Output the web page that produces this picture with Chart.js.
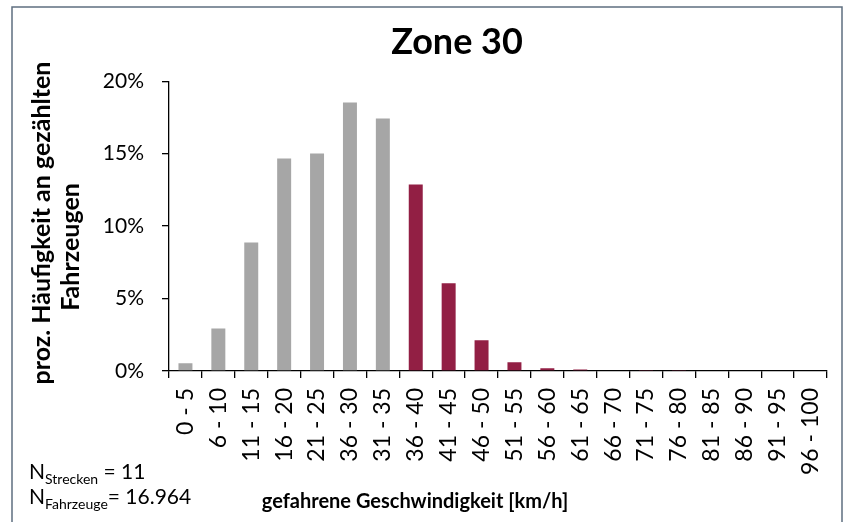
<!DOCTYPE html>
<html>
<head>
<meta charset="utf-8">
<script src="https://cdn.jsdelivr.net/npm/chart.js@4.4.0/dist/chart.umd.min.js"></script>
<style>
  html, body { margin: 0; padding: 0; background: #fff; }
  #wrap { width: 853px; height: 522px; }
</style>
</head>
<body>
<div id="wrap"><canvas id="chart" width="853" height="522"></canvas></div>
<script>
// Geschwindigkeitsklassen (Beschriftung wie im Original)
const categories = ['0 - 5', '6 - 10', '11 - 15', '16 - 20', '21 - 25', '36 - 30', '31 - 35',
    '36 - 40', '41 - 45', '46 - 50', '51 - 55', '56 - 60', '61 - 65', '66 - 70', '71 - 75',
    '76 - 80', '81 - 85', '86 - 90', '91 - 95', '96 - 100'];
// Anteil an gezählten Fahrzeugen in %
const shares = [0.53, 2.94, 8.87, 14.67, 15.01, 18.53, 17.43, 12.87, 6.05, 2.12,
    0.6, 0.19, 0.1, 0.05, 0.04, 0.03, 0, 0, 0, 0];
const yTicks = [0, 5, 10, 15, 20];
const firstOverLimit = 7; // ab "36 - 40" zu schnell
const notes = [['Strecken', ' = 11'], ['Fahrzeuge', '= 16.964']];

const grey = '#a6a6a6';
const red = '#921f44';
const font = 'Lato, sans-serif';

// Rahmen, Achsentitel und N-Angaben
const extras = {
    id: 'extras',
    afterDraw(chart) {
        const ctx = chart.ctx;
        ctx.save();
        ctx.strokeStyle = '#5f6f80';
        ctx.lineWidth = 1.5;
        ctx.beginPath();
        ctx.moveTo(12, 522); ctx.lineTo(12, 7); ctx.lineTo(842, 7); ctx.lineTo(842, 522);
        ctx.stroke();

        ctx.fillStyle = '#000';
        ctx.textAlign = 'center';
        ctx.textBaseline = 'middle';
        ctx.font = 'bold 25px ' + font;
        const yTitle = [['proz. Häufigkeit an gezählten', 42, 223], ['Fahrzeugen', 71, 247]];
        yTitle.forEach(([t, x, y]) => {
            ctx.save();
            ctx.translate(x, y);
            ctx.rotate(-Math.PI / 2);
            ctx.fillText(t, 0, 0);
            ctx.restore();
        });

        ctx.textBaseline = 'alphabetic';
        ctx.font = 'bold 20px ' + font;
        ctx.fillText('gefahrene Geschwindigkeit [km/h]', 415, 508);

        ctx.textAlign = 'left';
        notes.forEach((n, i) => {
            const base = 479 + i * 25;
            let x = 29;
            ctx.font = '21px ' + font;
            ctx.fillText('N', x, base);
            x += ctx.measureText('N').width;
            ctx.font = '14px ' + font;
            ctx.fillText(n[0], x, base + 5);
            x += ctx.measureText(n[0]).width;
            ctx.font = '21px ' + font;
            ctx.fillText(n[1], x, base);
        });
        ctx.restore();
    }
};

const ctx = document.getElementById('chart').getContext('2d');

const chart = new Chart(ctx, {
    type: 'bar',
    data: {
        labels: categories,
        datasets: [{
            data: shares,
            backgroundColor: shares.map((v, i) => i < firstOverLimit ? grey : red),
            barPercentage: 0.85,
            categoryPercentage: 0.5
        }]
    },
    options: {
        responsive: false,
        animation: false,
        layout: { padding: { left: 61, right: 0, top: 8, bottom: 0 } },
        plugins: {
            legend: { display: false },
            tooltip: { enabled: false },
            title: {
                display: true,
                text: 'Zone 30',
                color: '#000',
                font: { family: font, size: 36, weight: 'bold', lineHeight: 1.2 },
                padding: { top: 13, bottom: 17 }
            }
        },
        scales: {
            x: {
                grid: { drawOnChartArea: false, tickLength: 7, color: '#000', lineWidth: 1.3 },
                border: { color: '#000', width: 1.3 },
                ticks: {
                    color: '#000',
                    font: { family: font, size: 23 },
                    minRotation: 90, maxRotation: 90,
                    autoSkip: false,
                    padding: 10
                },
                afterFit: s => { s.height = 151; }
            },
            y: {
                min: 0,
                max: 20,
                afterBuildTicks: s => { s.ticks = yTicks.map(v => ({ value: v })); },
                grid: { drawOnChartArea: false, tickLength: 7, color: '#000', lineWidth: 1.3 },
                border: { color: '#000', width: 1.3 },
                ticks: {
                    color: '#000',
                    font: { family: font, size: 21 },
                    padding: 18,
                    callback: v => v + '%'
                },
                afterFit: s => { s.width = 108; }
            },
            spacer: {
                position: 'right',
                grid: { display: false },
                border: { display: false },
                ticks: { display: false },
                afterFit: s => { s.width = 26; }
            }
        }
    },
    plugins: [extras]
});
</script>
</body>
</html>
